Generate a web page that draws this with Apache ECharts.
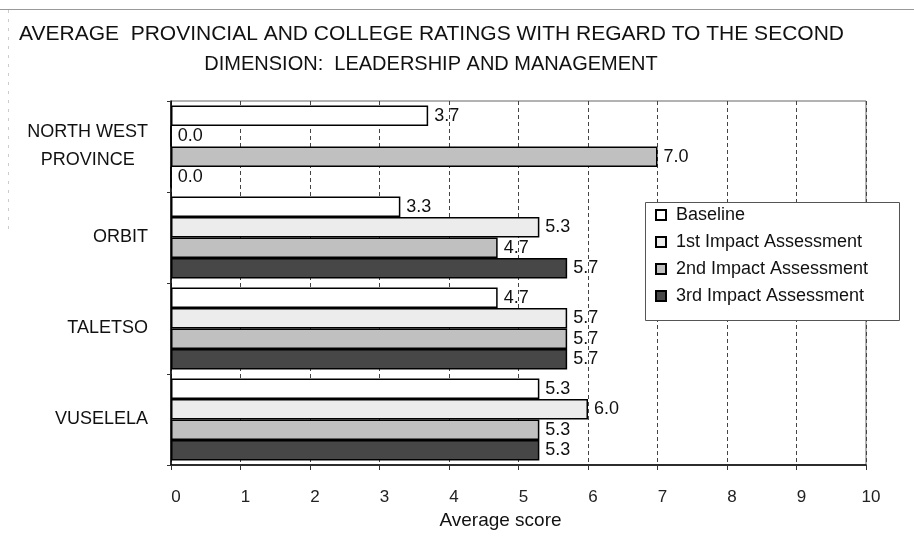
<!DOCTYPE html>
<html><head><meta charset="utf-8">
<script src="https://cdn.jsdelivr.net/npm/echarts@6/dist/echarts.min.js"></script>
<style>html,body{margin:0;padding:0;background:#fff}#c{width:914px;height:537px}</style>
</head><body><div id="c"></div>
<script>
const categories = ["NORTH WEST\nPROVINCE", "ORBIT", "TALETSO", "VUSELELA"];
const seriesNames = ["Baseline", "1st Impact Assessment", "2nd Impact Assessment", "3rd Impact Assessment"];
const baseline = [3.7, 3.3, 4.7, 5.3];
const impact1 = [0.0, 5.3, 5.7, 6.0];
const impact2 = [7.0, 4.7, 5.7, 5.3];
const impact3 = [0.0, 5.7, 5.7, 5.3];
const xTicks = [0, 1, 2, 3, 4, 5, 6, 7, 8, 9, 10];

const colors = ["#ffffff", "#ececec", "#c0c0c0", "#474747"];
const seriesData = [baseline, impact1, impact2, impact3];
const font = "Liberation Sans, Arial, sans-serif";

const chart = echarts.init(document.getElementById('c'), null, {renderer: 'canvas'});
chart.setOption({
  backgroundColor: '#fff',
  animation: false,
  title: [
    {text: 'AVERAGE  PROVINCIAL AND COLLEGE RATINGS WITH REGARD TO THE SECOND', left: 14, top: 19,
     textStyle: {fontFamily: font, fontSize: 21, fontWeight: 'normal', color: '#111'}},
    {text: 'DIMENSION:  LEADERSHIP AND MANAGEMENT', left: 426, textAlign: 'center', top: 49,
     textStyle: {fontFamily: font, fontSize: 20, fontWeight: 'normal', color: '#111'}}
  ],
  graphic: [
    {type: 'line', shape: {x1: 0, y1: 9.5, x2: 914, y2: 9.5}, style: {stroke: '#999', lineWidth: 1}, silent: true},
    {type: 'line', shape: {x1: 8.5, y1: 10, x2: 8.5, y2: 230}, style: {stroke: '#ccc', lineWidth: 1, lineDash: [3, 6]}, silent: true},
    {type: 'rect', shape: {x: 645.5, y: 202.5, width: 254, height: 118},
     style: {fill: '#fff', stroke: '#555', lineWidth: 1}, z: 5, silent: true}
  ],
  legend: {
    orient: 'vertical', left: 655, top: 206, z: 10,
    data: seriesNames,
    icon: 'rect', itemWidth: 10, itemHeight: 10, itemGap: 9,
    padding: 0,
    textStyle: {fontFamily: font, fontSize: 18, color: '#111', padding: [0, 0, 0, 5]}
  },
  grid: {left: 171, right: 48, top: 101, bottom: 72, show: true, borderColor: '#666', borderWidth: 1},
  xAxis: {
    type: 'value', min: 0, max: 10, interval: 1,
    name: 'Average score', nameLocation: 'middle', nameGap: 44,
    nameTextStyle: {fontFamily: font, fontSize: 19, color: '#111', padding: [0, 36, 0, 0]},
    axisLine: {show: true, lineStyle: {color: '#000', width: 1.5}},
    axisTick: {show: true, length: 5, lineStyle: {color: '#333'}},
    axisLabel: {fontFamily: font, fontSize: 17, color: '#222', margin: 24, padding: [0, 0, 0, 10],
      formatter: v => xTicks.includes(v) ? String(v) : ''},
    splitLine: {show: true, lineStyle: {color: '#444', type: [4, 3], width: 1}}
  },
  yAxis: {
    type: 'category', data: categories, inverse: true,
    axisLine: {show: true, lineStyle: {color: '#000', width: 1.5}},
    axisTick: {show: true, length: 4, lineStyle: {color: '#333'}},
    axisLabel: {fontFamily: font, fontSize: 18, color: '#111', margin: 23, lineHeight: 28,
      formatter: v => v.indexOf('\n') >= 0 ? v.split('\n').map(s => '{c|' + s + '}').join('\n') : v,
      rich: {c: {align: 'center', fontFamily: font, fontSize: 18, color: '#111', lineHeight: 28}}
    }
  },
  series: seriesNames.map((n, i) => ({
    name: n, type: 'bar', data: seriesData[i],
    barGap: '0%', barCategoryGap: '10%',
    itemStyle: {color: colors[i], borderColor: '#000', borderWidth: 1.5},
    label: {show: true, position: 'right', distance: 6, fontFamily: font, fontSize: 18, color: '#111',
      formatter: p => p.value.toFixed(1)}
  }))
});
</script></body></html>
